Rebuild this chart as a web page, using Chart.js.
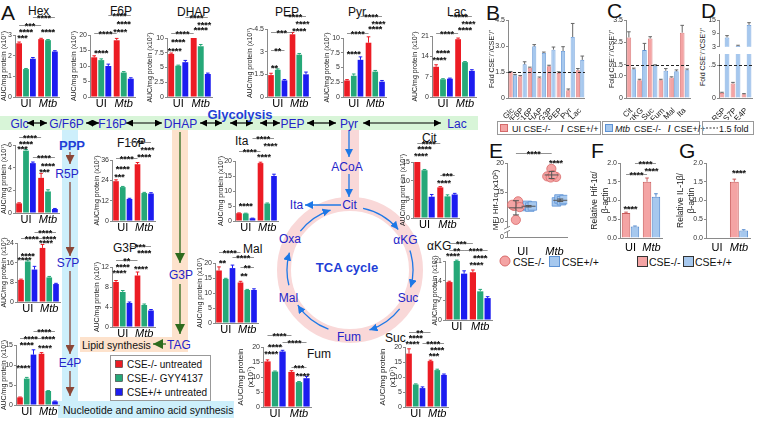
<!DOCTYPE html>
<html>
<head>
<meta charset="utf-8">
<title>CSE metabolite figure</title>
<script src="https://cdn.jsdelivr.net/npm/chart.js@4.4.1/dist/chart.umd.min.js"></script>
<style>
  body { margin: 0; background: #fff; }
  #fig { position: relative; width: 757px; height: 421px; overflow: hidden; background: #fff; }
  #fig canvas { position: absolute; }
  #diagram { position: absolute; left: 0; top: 0; }
</style>
</head>
<body>
<div id="fig">
  <svg id="diagram" width="757" height="421" xmlns="http://www.w3.org/2000/svg"></svg>
</div>
<script>
// ---- data (panel A: rows = CSE-/- untreated, CSE-/- GYY4137, CSE+/+ untreated; cols = UI, Mtb)
const groups = ["UI", "Mtb"];
const series = ["CSE-/- untreated", "CSE-/- GYY4137", "CSE+/+ untreated"];

const hex = [[2.6, 2.8], [1.35, 2.75], [1.85, 2.2]];
const hexErr = [[0.06, 0.04], [0.03, 0.03], [0.06, 0.04]];
const f6p = [[12.8, 18.3], [11.9, 7.9], [10.0, 5.9]];
const f6pErr = [[0.5, 0.6], [0.4, 0.3], [0.6, 0.3]];
const dhap = [[7.3, 10.1], [5.3, 8.6], [5.9, 3.9]];
const dhapErr = [[0.15, 0.15], [0.1, 0.3], [0.3, 0.15]];
const pep = [[1.45, 4.15], [1.8, 2.8], [1.1, 1.5]];
const pepErr = [[0.12, 0.12], [0.06, 0.08], [0.06, 0.15]];
const pyr = [[2.8, 9.2], [3.6, 4.3], [6.3, 2.6]];
const pyrErr = [[0.15, 1.0], [0.3, 0.2], [0.5, 0.2]];
const lac = [[10.4, 19.9], [6.1, 12.0], [6.3, 9.0]];
const lacErr = [[0.7, 0.4], [0.2, 0.2], [0.2, 0.4]];
const r5p = [[0.85, 3.1], [5.5, 1.9], [4.4, 0.35]];
const r5pErr = [[0.05, 0.4], [0.1, 0.15], [0.1, 0.05]];
const s7p = [[9.0, 22.0], [16.5, 10.0], [13.2, 7.3]];
const s7pErr = [[0.3, 1.4], [0.6, 0.4], [1.3, 0.3]];
const e4p = [[1.9, 12.8], [6.6, 3.5], [12.6, 0.9]];
const e4pErr = [[0.1, 0.3], [0.3, 0.1], [1.2, 0.1]];
const f16p = [[23.5, 33.5], [20.0, 16.5], [13.0, 16.2]];
const f16pErr = [[0.8, 1.0], [0.4, 0.4], [0.4, 0.5]];
const g3p = [[9.0, 10.3], [7.0, 4.4], [4.8, 3.3]];
const g3pErr = [[0.3, 0.7], [0.3, 0.2], [0.2, 0.2]];
const ita = [[2.6, 19.3], [2.5, 5.8], [0.9, 15.0]];
const itaErr = [[0.1, 0.3], [0.1, 0.2], [0.05, 0.6]];
const mal = [[17.5, 13.5], [14.7, 11.0], [18.3, 11.0]];
const malErr = [[1.2, 0.4], [0.2, 0.2], [1.0, 0.4]];
const cit = [[15.4, 8.2], [12.8, 5.8], [5.7, 6.3]];
const citErr = [[0.4, 0.2], [0.2, 0.4], [0.6, 0.3]];
const akg = [[13.5, 17.0], [21.0, 10.2], [16.5, 7.8]];
const akgErr = [[0.3, 0.8], [0.3, 0.7], [1.0, 0.5]];
const suc = [[17.8, 15.3], [7.5, 12.3], [6.3, 10.7]];
const sucErr = [[1.6, 0.3], [0.2, 0.3], [0.4, 0.3]];
const fum = [[15.2, 11.7], [11.8, 8.3], [18.5, 9.6]];
const fumErr = [[0.5, 0.4], [0.2, 0.2], [0.4, 0.6]];

// significance brackets: [bar a, bar b, height (data units), stars]; bars 0-2 = UI, 3-5 = Mtb
const hexSig = [[2, 5, 3.87, "****"], [0, 3, 3.48, "***"], [0, 2, 3.19, "****"], [3, 5, 3.19, "****"], [0, 1, 2.9, "***"]];
const f6pSig = [[2, 5, 26.5, "****"], [3, 5, 23.9, "****"], [0, 3, 20.6, "****"], [3, 4, 21.3, "****"], [0, 2, 14.5, "****"]];
const dhapSig = [[2, 5, 13.6, "****"], [4, 5, 12.4, "****"], [3, 5, 11.5, "****"], [0, 3, 10.8, "****"], [0, 2, 9.5, "****"], [0, 1, 8.0, "****"]];
const pepSig = [[2, 5, 5.35, "****"], [4, 5, 4.9, "****"], [3, 5, 4.45, "****"], [0, 3, 4.3, "***"], [0, 2, 3.1, "**"], [0, 1, 2.0, "**"]];
const pyrSig = [[2, 5, 13.7, "****"], [4, 5, 12.5, "****"], [3, 5, 11.7, "****"], [0, 3, 10.8, "****"], [0, 2, 7.5, "****"]];
const lacSig = [[2, 5, 27.9, "****"], [4, 5, 25.5, "****"], [3, 5, 23.4, "****"], [0, 3, 22, "****"], [0, 2, 15.5, "****"], [0, 1, 13.1, "****"]];
const r5pSig = [[0, 3, 6.7, "****"], [0, 2, 6.2, "****"], [0, 1, 5.75, "***"], [2, 5, 4.9, "****"], [3, 5, 4.2, "****"], [3, 4, 3.7, "***"]];
const s7pSig = [[2, 5, 28.5, "****"], [0, 3, 26, "****"], [3, 5, 26, "****"], [3, 4, 24.3, "****"], [0, 2, 19.1, "****"], [0, 1, 17.6, "****"]];
const e4pSig = [[2, 5, 18.5, "****"], [0, 3, 16.8, "****"], [3, 5, 16.8, "****"], [0, 2, 15.2, "****"], [3, 4, 14.4, "****"], [0, 1, 9.5, "****"]];
const f16pSig = [[2, 5, 46.7, "**"], [4, 5, 42.6, "****"], [3, 5, 38.5, "****"], [0, 3, 37.3, "****"], [0, 2, 31.4, "****"], [0, 1, 26.6, "***"]];
const g3pSig = [[2, 5, 16.2, "***"], [3, 5, 15.0, "****"], [0, 3, 13.4, "**"], [0, 2, 12.2, "****"], [3, 4, 11.8, "****"], [0, 1, 11.0, "****"]];
const itaSig = [[2, 5, 27.7, "****"], [4, 5, 25.3, "****"], [0, 3, 23.3, "****"], [3, 4, 21.6, "****"], [0, 2, 5.3, "****"]];
const malSig = [[0, 3, 23.7, "****"], [2, 5, 22.0, "****"], [0, 1, 20.3, "**"], [3, 5, 18.7, "**"], [3, 4, 16.0, "**"]];
const citSig = [[0, 3, 20.1, "****"], [0, 2, 18.8, "****"], [0, 1, 16.9, "****"], [3, 5, 11.5, "***"], [3, 4, 9.7, "****"]];
const akgSig = [[0, 3, 27.4, "***"], [0, 2, 25, "**"], [2, 5, 25, "****"], [0, 1, 23.1, "****"], [3, 5, 22.3, "****"], [3, 4, 19.9, "****"]];
const sucSig = [[0, 3, 25, "**"], [0, 2, 23.3, "****"], [0, 1, 21.3, "****"], [2, 5, 21.5, "****"], [3, 5, 19.3, "****"], [3, 4, 17.3, "***"]];
const fumSig = [[0, 3, 24, "****"], [2, 5, 21.7, "****"], [0, 2, 20.3, "****"], [0, 1, 18, "****"], [3, 5, 13.3, "***"], [4, 5, 10.8, "****"]];

// panels B-D: fold CSE-/- over CSE+/+
const foldGlyco = ["Glc", "G/F6P", "F16P", "DHAP", "G3P", "PEP", "Pyr", "Lac"];
const foldGlycoUI = [1.5, 1.25, 1.75, 1.17, 1.83, 1.45, 0.44, 1.6];
const foldGlycoUIErr = [0.03, 0.05, 0.03, 0.04, 0.06, 0.06, 0.08, 0.1];
const foldGlycoMtb = [1.31, 1.94, 2.98, 2.6, 2.79, 2.71, 3.52, 2.2];
const foldGlycoMtbErr = [0.05, 0.15, 0.1, 0.05, 0.15, 0.25, 0.78, 0.22];
const foldTca = ["Cit", "αKG", "Suc", "Fum", "Mal", "Ita"];
const foldTcaUI = [2.72, 0.8, 2.67, 0.8, 0.92, 2.93];
const foldTcaUIErr = [0.25, 0.04, 0.08, 0.04, 0.03, 0.33];
const foldTcaMtb = [1.29, 2.15, 1.43, 1.22, 1.2, 1.25];
const foldTcaMtbErr = [0.05, 0.3, 0.06, 0.1, 0.06, 0.05];
const foldPpp = ["R5P", "S7P", "E4P"];
const foldPppUI = [0.23, 0.66, 0.17];
const foldPppUIErr = [0.03, 0.05, 0.03];
const foldPppMtb = [7.2, 3.4, 12.8];
const foldPppMtbErr = [0.8, 0.3, 1.0];

// panel E: MFI Hif-1a (x10^2), single mice; x = jitter position
const eKoUI = [13.4, 12.6, 12.4, 10.2, 12.8];
const eKoUIx = [0.85, 0.72, 0.9, 0.78, 0.66];
const eWtUI = [12.5, 12.7, 12.4, 12.6];
const eWtUIx = [1.06, 1.14, 1.22, 1.3];
const eKoMtb = [19.0, 17.7, 17.5, 17.6, 17.9];
const eKoMtbx = [1.9, 1.77, 1.88, 2.05, 1.95];
const eWtMtb = [13.3, 13.8, 13.5, 13.7];
const eWtMtbx = [2.06, 2.14, 2.22, 2.3];

// panels F, G: relative to b-actin (UI, Mtb)
const hifKO = [0.67, 1.5], hifKOErr = [0.02, 0.1];
const hifWT = [0.31, 1.1], hifWTErr = [0.01, 0.08];
const il1bKO = [0, 1.5], il1bKOErr = [0, 0.07];
const il1bWT = [0, 0.2], il1bWTErr = [0, 0.02];

// ---- styles
const FONT = '"Liberation Sans", Arial, Helvetica, sans-serif';
Chart.defaults.font.family = FONT;
Chart.defaults.color = "#222";

const RED = "#ec1c24", GREEN = "#25a878", BLUE = "#1c1cf0";
const COLORS = [RED, GREEN, BLUE];
const PINK = "#f4a4a4", PINK_EDGE = "#d46a6a", SKY = "#a6c8ee", SKY_EDGE = "#5d92d4";
const NAME = "#2424c8", BOLDBLUE = "#1f3fd6";
const AUC = "AUC/mg protein (x10⁷)";
const FOLD = "Fold CSE⁻/⁻/CSE⁺/⁺";

const fig = document.getElementById("fig");

function addCanvas(left, top, w, h) {
  const c = document.createElement("canvas");
  c.width = w;
  c.height = h;
  c.style.left = left + "px";
  c.style.top = top + "px";
  c.style.width = w + "px";
  c.style.height = h + "px";
  fig.appendChild(c);
  return c;
}

function extras(o) {
  return {
    id: "extras",
    afterDatasetsDraw(chart) {
      const ctx = chart.ctx, ys = chart.scales.y, area = chart.chartArea;
      ctx.save();
      chart.data.datasets.forEach((ds, d) => {
        if (!ds.errs) return;
        chart.getDatasetMeta(d).data.forEach((bar, k) => {
          const v = ds.data[k], e = ds.errs[k];
          if (!e || v < ys.min || v > ys.max) return;
          const y1 = ys.getPixelForValue(v), y2 = ys.getPixelForValue(v + e);
          ctx.strokeStyle = ds.errColor;
          ctx.lineWidth = 1;
          ctx.beginPath();
          ctx.moveTo(bar.x, y1);
          ctx.lineTo(bar.x, y2);
          ctx.moveTo(bar.x - 1.8, y2);
          ctx.lineTo(bar.x + 1.8, y2);
          ctx.stroke();
        });
      });
      if (o.ref != null) {
        const y = Math.round(ys.getPixelForValue(o.ref)) + 0.5;
        ctx.strokeStyle = "#222";
        ctx.lineWidth = 1;
        ctx.setLineDash([3, 2]);
        ctx.beginPath();
        ctx.moveTo(area.left, y);
        ctx.lineTo(area.right, y);
        ctx.stroke();
        ctx.setLineDash([]);
      }
      ctx.font = "bold 9px " + FONT;
      ctx.textAlign = "center";
      ctx.textBaseline = "alphabetic";
      (o.sig || []).forEach(([a, b, v, label]) => {
        const xa = o.xOf(chart, a), xb = o.xOf(chart, b);
        const y = Math.round(ys.getPixelForValue(v)) + 0.5;
        ctx.strokeStyle = "#777";
        ctx.lineWidth = 0.8;
        ctx.beginPath();
        ctx.moveTo(xa, y);
        ctx.lineTo(xb, y);
        ctx.stroke();
        ctx.fillStyle = "#111";
        ctx.fillText(label, (xa + xb) / 2, y + 3);
      });
      // group labels under the x axis (UI upright, Mtb italic)
      (o.groupAt || []).forEach((pos, i) => {
        ctx.font = (i === 1 ? "italic " : "") + "11px " + FONT;
        ctx.fillStyle = "#000";
        ctx.textBaseline = "top";
        ctx.fillText(groups[i], chart.scales.x.getPixelForValue(pos), area.bottom + (o.labelDy || 1.5));
      });
      if (o.after) o.after(chart, ctx);
      ctx.restore();
    }
  };
}

const barAt = per => (chart, i) => chart.getDatasetMeta(i % per).data[Math.floor(i / per)].x;

function yScale(p) {
  return {
    min: p.min || 0,
    max: p.max != null ? p.max : p.ticks[p.ticks.length - 1],
    afterBuildTicks: s => { s.ticks = p.ticks.map(v => ({ value: v })); },
    afterFit: s => { s.width = p.yW; },
    grid: { drawOnChartArea: false, tickLength: 2, color: "#8a8a8a" },
    border: { color: "#8a8a8a" },
    ticks: { font: { size: 7 }, padding: 1, color: "#333", autoSkip: false, callback: p.tickFmt || (v => v) },
    title: { display: !!p.title, text: p.title || "", font: { size: p.titleSize || 7 }, padding: 0, color: "#222" }
  };
}

function groupX(xH) {
  return {
    grid: { display: false },
    border: { color: "#8a8a8a" },
    ticks: { display: false },
    afterFit: s => { s.height = xH; }
  };
}

function baseOptions(padTop, padBottom, scales) {
  return {
    responsive: false, animation: false, events: [],
    layout: { padding: { top: padTop, right: 2, left: 0, bottom: padBottom } },
    plugins: { legend: { display: false }, tooltip: { enabled: false } },
    scales
  };
}

// panel A metabolite chart: three bars per group
function groupChart(p) {
  const padTop = 30, xH = 13;
  const left = p.ax - p.yW, top = p.top - padTop;
  const w = p.right - left + 2, h = p.zero - top + xH;
  const cv = addCanvas(left, top, w, h);
  new Chart(cv, {
    type: "bar",
    data: {
      labels: groups,
      datasets: p.vals.map((row, i) => ({
        label: series[i], data: row, errs: p.errs[i],
        backgroundColor: COLORS[i], errColor: COLORS[i],
        categoryPercentage: 0.94, barPercentage: 0.84
      }))
    },
    options: baseOptions(padTop, 0, { x: groupX(xH), y: yScale(p) }),
    plugins: [extras({ sig: p.sig, xOf: barAt(3), groupAt: [0, 1] })]
  });
}

// panels B-D: fold bars
function foldChart(p) {
  const padTop = 6, padBottom = p.xH ? 0 : 5;
  const left = p.ax - p.yW, top = p.top - padTop;
  const w = p.right - left + 2, h = p.zero - top + (p.xH || padBottom);
  const cv = addCanvas(left, top, w, h);
  new Chart(cv, {
    type: "bar",
    data: {
      labels: p.labels,
      datasets: [
        { data: p.ui, errs: p.uiErr, backgroundColor: PINK, borderColor: PINK_EDGE, borderWidth: 0.8, errColor: "#666" },
        { data: p.mtb, errs: p.mtbErr, backgroundColor: SKY, borderColor: SKY_EDGE, borderWidth: 0.8, errColor: "#666" }
      ].map(d => Object.assign(d, { categoryPercentage: 0.92, barPercentage: 0.92 }))
    },
    options: baseOptions(padTop, padBottom, {
      x: {
        display: !!p.xH, grid: { display: false }, border: { color: "#8a8a8a" },
        ticks: { minRotation: 45, maxRotation: 45, autoSkip: false, padding: 0, font: { size: 8 }, color: "#222" },
        afterFit: s => { s.height = p.xH; }
      },
      y: yScale(p)
    }),
    plugins: [extras({ ref: p.ref, xOf: barAt(2) })]
  });
}

// panels F, G: two bars per group
function pairChart(p) {
  const padTop = 14, xH = 17;
  const left = p.ax - p.yW, top = p.top - padTop;
  const w = p.right - left + 2, h = p.zero - top + xH;
  const cv = addCanvas(left, top, w, h);
  new Chart(cv, {
    type: "bar",
    data: {
      labels: groups,
      datasets: [
        { data: p.ko, errs: p.koErr, backgroundColor: PINK, borderColor: "#c95c5c", borderWidth: 1, errColor: "#c95c5c" },
        { data: p.wt, errs: p.wtErr, backgroundColor: SKY, borderColor: "#4f86cc", borderWidth: 1, errColor: "#4f86cc" }
      ].map(d => Object.assign(d, { categoryPercentage: 0.85, barPercentage: 0.95 }))
    },
    options: baseOptions(padTop, 0, { x: groupX(xH), y: yScale(p) }),
    plugins: [extras({ sig: p.sig, xOf: barAt(2), groupAt: [0, 1], labelDy: 4 })]
  });
}

const mean = a => a.reduce((s, v) => s + v, 0) / a.length;
const pts = (ys, xs) => ys.map((y, i) => ({ x: xs[i], y }));

function meanSd(chart, ctx) {
  const xs = chart.scales.x, ys = chart.scales.y;
  [[eKoUI, eKoUIx], [eWtUI, eWtUIx], [eKoMtb, eKoMtbx], [eWtMtb, eWtMtbx]].forEach(([v, x]) => {
    const m = mean(v);
    const sd = Math.sqrt(v.reduce((s, a) => s + (a - m) ** 2, 0) / (v.length - 1));
    const cx = xs.getPixelForValue(mean(x));
    const ym = ys.getPixelForValue(m), y1 = ys.getPixelForValue(m - sd), y2 = ys.getPixelForValue(m + sd);
    ctx.strokeStyle = "#555";
    ctx.lineWidth = 1;
    ctx.beginPath();
    ctx.moveTo(cx - 7, ym); ctx.lineTo(cx + 7, ym);
    ctx.moveTo(cx, y1); ctx.lineTo(cx, y2);
    ctx.moveTo(cx - 3, y1); ctx.lineTo(cx + 3, y1);
    ctx.moveTo(cx - 3, y2); ctx.lineTo(cx + 3, y2);
    ctx.stroke();
  });
  // axis break
  const ax = chart.chartArea.left, yb = ys.getPixelForValue(8.5);
  ctx.fillStyle = "#fff";
  ctx.fillRect(ax - 3, yb - 2, 6, 4);
  ctx.strokeStyle = "#8a8a8a";
  ctx.beginPath();
  ctx.moveTo(ax - 3, yb - 0.5); ctx.lineTo(ax + 3, yb - 3.5);
  ctx.moveTo(ax - 3, yb + 3.5); ctx.lineTo(ax + 3, yb + 0.5);
  ctx.stroke();
}

function scatterE() {
  const ax = 507, yW = 16, top = 163, zero = 237, right = 572, padTop = 16, xH = 22;
  const left = ax - yW, ctop = top - padTop;
  const cv = addCanvas(left, ctop, right - left + 2, zero - ctop + xH);
  const koMtbX = mean(eKoMtbx);
  const eSig = [[mean(eKoUIx), koMtbX, 21.7, "****"], [koMtbX, mean(eWtMtbx), 20.2, "****"]];
  new Chart(cv, {
    type: "scatter",
    data: {
      datasets: [
        { data: pts(eKoUI, eKoUIx).concat(pts(eKoMtb, eKoMtbx)), pointStyle: "circle", pointRadius: 4.6,
          backgroundColor: PINK, borderColor: "#d96a6a", borderWidth: 0.8 },
        { data: pts(eWtUI, eWtUIx).concat(pts(eWtMtb, eWtMtbx)), pointStyle: "rect", pointRadius: 6,
          backgroundColor: SKY, borderColor: SKY_EDGE, borderWidth: 0.8 }
      ]
    },
    options: baseOptions(padTop, 0, {
      x: {
        type: "linear", min: 0.5, max: 2.4,
        grid: { display: false }, border: { color: "#8a8a8a" },
        ticks: { display: false },
        afterFit: s => { s.height = xH; }
      },
      y: yScale({ ticks: [7.25, 10, 15, 20], min: 7.25, yW, title: "MFI Hif-1α (x10²)", titleSize: 8,
                  tickFmt: v => (v < 8 ? "0" : v) })
    }),
    plugins: [extras({ sig: eSig, xOf: (chart, v) => chart.scales.x.getPixelForValue(v), after: meanSd,
                       groupAt: [1, 2], labelDy: 9 })]
  });
}

// ---- pathway diagram, labels and legends (svg)
const NS = "http://www.w3.org/2000/svg";
const svg = document.getElementById("diagram");

function add(tag, attrs, text, parent) {
  const e = document.createElementNS(NS, tag);
  Object.entries(attrs).forEach(([k, v]) => e.setAttribute(k, v));
  if (text != null) e.textContent = text;
  (parent || svg).appendChild(e);
  return e;
}

function txt(x, y, s, o = {}) {
  return add("text", {
    x, y, "font-family": FONT, "font-size": o.size || 12, fill: o.color || "#111",
    "text-anchor": o.anchor || "start", "font-weight": o.weight || "normal", "font-style": o.style || "normal"
  }, s);
}

const defs = add("defs", {});
[["hk", "#000", 7], ["hb", "#1e78e6", 8], ["hr", "#8b4636", 9], ["hg", "#2d6b1d", 10]].forEach(([id, c, s]) => {
  const m = add("marker", { id, viewBox: "0 0 10 10", refX: 10, refY: 5, markerWidth: s, markerHeight: s,
    markerUnits: "userSpaceOnUse", orient: "auto-start-reverse" }, null, defs);
  add("path", { d: "M0,0 L10,5 L0,10 z", fill: c }, null, m);
});

function arrow(x1, y1, x2, y2, id, color, w, both) {
  const a = { x1, y1, x2, y2, stroke: color, "stroke-width": w, "marker-end": `url(#${id})` };
  if (both) a["marker-start"] = `url(#${id})`;
  add("line", a);
}

function arc(a1, a2) {
  const cx = 350, cy = 270, r = 63, rad = Math.PI / 180;
  const x1 = cx + r * Math.cos(a1 * rad), y1 = cy + r * Math.sin(a1 * rad);
  const x2 = cx + r * Math.cos(a2 * rad), y2 = cy + r * Math.sin(a2 * rad);
  add("path", { d: `M${x1},${y1} A${r},${r} 0 0 1 ${x2},${y2}`, fill: "none", stroke: "#1e78e6",
    "stroke-width": 1.3, "marker-end": "url(#hb)" });
}

// bands
add("rect", { x: 0, y: 116, width: 478, height: 14, fill: "#d8f5d8" });
add("rect", { x: 62, y: 130, width: 16, height: 272, fill: "#cdeffb" });
add("rect", { x: 58, y: 401, width: 176, height: 17, fill: "#cdeffb" });
add("rect", { x: 172, y: 130, width: 16, height: 222, fill: "#fde2cc" });
add("rect", { x: 80, y: 337, width: 92, height: 15, fill: "#fde2cc" });
add("rect", { x: 341, y: 130, width: 18, height: 76, fill: "#f9d8d8" });
add("circle", { cx: 350, cy: 270, r: 66, fill: "none", stroke: "#f9d8d8", "stroke-width": 14 });

// glycolysis row
[["Glc", 19.5], ["G/F6P", 66.5], ["F16P", 112.5], ["DHAP", 180.5], ["PEP", 292.5], ["Pyr", 349], ["Lac", 457]]
  .forEach(([s, x]) => txt(x, 127.5, s, { anchor: "middle", color: NAME }));
[[27, 47], [86, 99], [126, 162], [200, 222], [230, 253], [260, 280], [307, 336], [363, 441]]
  .forEach(([a, b]) => arrow(a, 123, b, 123, "hk", "#000", 1.2, true));
txt(240, 119, "Glycolysis", { anchor: "middle", size: 13, weight: "bold", color: BOLDBLUE });

// pentose phosphate pathway
txt(72, 150, "PPP", { anchor: "middle", size: 13, weight: "bold", color: BOLDBLUE });
txt(67, 178, "R5P", { anchor: "middle", color: NAME });
txt(68, 267, "S7P", { anchor: "middle", color: NAME });
txt(70, 367, "E4P", { anchor: "middle", color: NAME });
arrow(70, 152, 70, 164, "hr", "#8b4636", 1.3);
arrow(70, 182, 70, 256, "hr", "#8b4636", 1.3);
arrow(70, 271, 70, 354, "hr", "#8b4636", 1.3);
arrow(70, 371, 70, 396, "hr", "#8b4636", 1.3);
txt(63, 414, "Nucleotide and amino acid synthesis", { size: 10.5, color: "#111" });

// glycerol / lipid branch
arrow(180, 132, 180, 263, "hg", "#2d6b1d", 1.3);
txt(181, 279, "G3P", { anchor: "middle", color: NAME });
arrow(180, 284, 180, 334, "hg", "#2d6b1d", 1.3);
txt(179, 349, "TAG", { anchor: "middle", color: NAME });
arrow(166, 344, 153, 344, "hg", "#2d6b1d", 1.3);
txt(82, 349, "Lipid synthesis", { size: 10.5, color: "#111" });

// TCA cycle
arrow(349, 131, 349, 157, "hb", "#1e78e6", 1.3);
arrow(349, 174, 349, 197, "hb", "#1e78e6", 1.3);
arrow(341, 205, 305, 205, "hb", "#1e78e6", 1.3);
[[-78, -40], [-18, 16], [38, 72], [110, 146], [166, 196], [218, 252]].forEach(([a, b]) => arc(a, b));
[["ACoA", 347, 171], ["Cit", 349.5, 209], ["Ita", 296.5, 209], ["αKG", 405.5, 244], ["Suc", 408, 302],
 ["Fum", 349, 341], ["Mal", 288.5, 302], ["Oxa", 290, 243]]
  .forEach(([s, x, y]) => txt(x, y, s, { anchor: "middle", color: NAME }));
txt(347, 272, "TCA cycle", { anchor: "middle", size: 13, weight: "bold", color: BOLDBLUE });

// chart names
[["Hex", 28, 15], ["F6P", 110, 15], ["DHAP", 177, 16], ["PEP", 275, 16], ["Pyr", 348, 16], ["Lac", 447, 16],
 ["F16P", 117, 147], ["G3P", 113, 252], ["Ita", 235, 145], ["Mal", 243, 253], ["Cit", 422, 142],
 ["αKG", 427, 250], ["Suc", 385, 342], ["Fum", 307, 358]]
  .forEach(([s, x, y]) => txt(x, y, s, { size: 12 }));

// panel letters
[["A", 1, 20], ["B", 486, 20], ["C", 607, 18], ["D", 701, 18], ["E", 489, 158], ["F", 591, 158], ["G", 679, 158]]
  .forEach(([s, x, y]) => txt(x, y, s, { size: 21 }));

// legend panel A
add("rect", { x: 110.5, y: 355.5, width: 100, height: 45, fill: "#fff", stroke: "#999", "stroke-width": 1 });
series.forEach((s, i) => {
  add("rect", { x: 115.5, y: 360.5 + i * 14, width: 7, height: 7, fill: COLORS[i], stroke: "#333", "stroke-width": 0.6 });
  txt(127, 367.5 + i * 14, s, { size: 10 });
});

// legend B-D
add("rect", { x: 497.5, y: 121.5, width: 103, height: 13, fill: "none", stroke: "#999" });
add("rect", { x: 500.5, y: 124.5, width: 7, height: 7, fill: PINK, stroke: PINK_EDGE });
txt(512, 131.5, "UI CSE-/-", { size: 9 });
txt(561, 131.5, "/", { size: 9, weight: "bold" });
txt(567, 131.5, "CSE+/+", { size: 9 });
add("rect", { x: 602.5, y: 121.5, width: 97, height: 13, fill: "none", stroke: "#999" });
add("rect", { x: 605.5, y: 124.5, width: 7, height: 7, fill: SKY, stroke: SKY_EDGE });
txt(615, 131.5, "Mtb", { size: 9, style: "italic" });
txt(634, 131.5, "CSE-/-", { size: 9 });
txt(668, 131.5, "/", { size: 9, weight: "bold" });
txt(674, 131.5, "CSE+/+", { size: 9 });
add("rect", { x: 702.5, y: 121.5, width: 51, height: 13, fill: "none", stroke: "#999" });
add("line", { x1: 706, y1: 128, x2: 718, y2: 128, stroke: "#333", "stroke-dasharray": "2,1.5" });
txt(719, 131.5, "1.5 fold", { size: 9 });

// D axis title (broken axis spans two canvases)
add("text", { transform: "translate(705,57) rotate(-90)", "font-family": FONT, "font-size": 7, fill: "#222",
  "text-anchor": "middle" }, FOLD);

// legend E
add("circle", { cx: 505, cy: 261, r: 5, fill: PINK, stroke: "#d96a6a" });
txt(513, 265.5, "CSE-/-", { size: 10.5 });
add("rect", { x: 549.5, y: 256.5, width: 10, height: 10, fill: SKY, stroke: SKY_EDGE });
txt(562, 265.5, "CSE+/+", { size: 10.5 });

// legend F, G
add("rect", { x: 637.5, y: 256.5, width: 10, height: 10, fill: PINK, stroke: "#333" });
txt(649, 265.5, "CSE-/-", { size: 10.5 });
add("rect", { x: 683.5, y: 256.5, width: 10, height: 10, fill: SKY, stroke: "#333" });
txt(695, 265.5, "CSE+/+", { size: 10.5 });

// ---- charts
groupChart({ vals: hex, errs: hexErr, sig: hexSig, ticks: [0, 1, 2, 3], ax: 15, top: 35, zero: 97, right: 59, yW: 15, title: AUC });
groupChart({ vals: f6p, errs: f6pErr, sig: f6pSig, ticks: [0, 5, 10, 15, 20], ax: 90, top: 35, zero: 97, right: 135, yW: 20, title: AUC });
groupChart({ vals: dhap, errs: dhapErr, sig: dhapSig, ticks: [0, 2.5, 5, 7.5, 10], ax: 167, top: 38, zero: 97, right: 212, yW: 21, title: AUC });
groupChart({ vals: pep, errs: pepErr, sig: pepSig, ticks: [0, 1.5, 3, 4.5], ax: 267, top: 29, zero: 97, right: 310, yW: 21, title: AUC });
groupChart({ vals: pyr, errs: pyrErr, sig: pyrSig, ticks: [0, 2.5, 5, 7.5, 10], ax: 343, top: 38, zero: 97, right: 386, yW: 20, title: AUC });
groupChart({ vals: lac, errs: lacErr, sig: lacSig, ticks: [0, 7, 14, 21], ax: 432, top: 36, zero: 97, right: 476, yW: 21, title: AUC });
groupChart({ vals: r5p, errs: r5pErr, sig: r5pSig, ticks: [0, 2, 4, 6], ax: 15, top: 145, zero: 213, right: 59, yW: 15, title: AUC });
groupChart({ vals: s7p, errs: s7pErr, sig: s7pSig, ticks: [0, 8, 16, 24], ax: 17, top: 243, zero: 302, right: 60, yW: 17, title: AUC });
groupChart({ vals: e4p, errs: e4pErr, sig: e4pSig, ticks: [0, 5, 10, 15], ax: 16, top: 345, zero: 405, right: 59, yW: 16, title: AUC });
groupChart({ vals: f16p, errs: f16pErr, sig: f16pSig, ticks: [0, 12, 24, 36], ax: 112, top: 160, zero: 221, right: 155, yW: 19, title: AUC });
groupChart({ vals: g3p, errs: g3pErr, sig: g3pSig, ticks: [0, 4, 8, 12], ax: 112, top: 267, zero: 327, right: 155, yW: 19, title: AUC });
groupChart({ vals: ita, errs: itaErr, sig: itaSig, ticks: [0, 5, 10, 15, 20], ax: 235, top: 161, zero: 221, right: 278, yW: 18, title: AUC });
groupChart({ vals: mal, errs: malErr, sig: malSig, ticks: [0, 5, 10, 15, 20], ax: 215, top: 263, zero: 323, right: 258, yW: 19, title: AUC });
groupChart({ vals: cit, errs: citErr, sig: citSig, ticks: [0, 5, 10, 15], ax: 413, top: 162, zero: 218, right: 459, yW: 14, title: "AUC/mg prot ein (x10⁷)" });
groupChart({ vals: akg, errs: akgErr, sig: akgSig, ticks: [0, 7, 14, 21], ax: 445, top: 261, zero: 320, right: 492, yW: 14, title: AUC });
groupChart({ vals: suc, errs: sucErr, sig: sucSig, ticks: [0, 5, 10, 15, 20], ax: 405, top: 347, zero: 407, right: 448, yW: 27, title: ["AUC/mg protein", "(x10⁷)"], titleSize: 8 });
groupChart({ vals: fum, errs: fumErr, sig: fumSig, ticks: [0, 5, 10, 15, 20], ax: 263, top: 347, zero: 407, right: 311, yW: 27, title: ["AUC/mg protein", "(x10⁷)"], titleSize: 8 });

foldChart({ labels: foldGlyco, ui: foldGlycoUI, uiErr: foldGlycoUIErr, mtb: foldGlycoMtb, mtbErr: foldGlycoMtbErr,
  ticks: [0, 1.5, 3, 4.5], tickFmt: v => (v === 0 ? "0" : v.toFixed(1)), ref: 1.5,
  ax: 508, top: 20, zero: 98, right: 585, yW: 20, xH: 22, title: FOLD });
foldChart({ labels: foldTca, ui: foldTcaUI, uiErr: foldTcaUIErr, mtb: foldTcaMtb, mtbErr: foldTcaMtbErr,
  ticks: [0, 1, 1.5, 2.5, 3.5], tickFmt: v => (v === 0 ? "0" : v.toFixed(1)), ref: 1.5,
  ax: 626, top: 20, zero: 98, right: 690, yW: 18, xH: 22, title: FOLD });
foldChart({ labels: foldPpp, ui: foldPppUI, uiErr: foldPppUIErr, mtb: foldPppMtb, mtbErr: foldPppMtbErr,
  ticks: [3, 9, 15], min: 3, ax: 719, top: 20, zero: 47, right: 752, yW: 10, xH: 0 });
foldChart({ labels: foldPpp, ui: foldPppUI, uiErr: foldPppUIErr, mtb: foldPppMtb, mtbErr: foldPppMtbErr,
  ticks: [0, 1.5], max: 2, ref: 1.5, ax: 719, top: 54, zero: 98, right: 752, yW: 10, xH: 22 });

scatterE();

pairChart({ ko: hifKO, koErr: hifKOErr, wt: hifWT, wtErr: hifWTErr, ticks: [0, 0.5, 1, 1.5, 2], tickFmt: v => v.toFixed(1),
  sig: [[0, 1, 0.8, "****"], [0, 2, 1.71, "****"], [2, 3, 1.81, "****"], [1, 3, 2.0, "****"]],
  ax: 620, top: 163, zero: 238, right: 662, yW: 30, title: ["Relative Hif-1α/", "β-actin"], titleSize: 8.5 });
pairChart({ ko: il1bKO, koErr: il1bKOErr, wt: il1bWT, wtErr: il1bWTErr, ticks: [0, 0.5, 1, 1.5, 2], tickFmt: v => v.toFixed(1),
  sig: [[2, 3, 1.76, "****"]],
  ax: 706, top: 163, zero: 238, right: 750, yW: 30, title: ["Relative IL-1β/", "β-actin"], titleSize: 8.5 });
</script>
</body>
</html>
